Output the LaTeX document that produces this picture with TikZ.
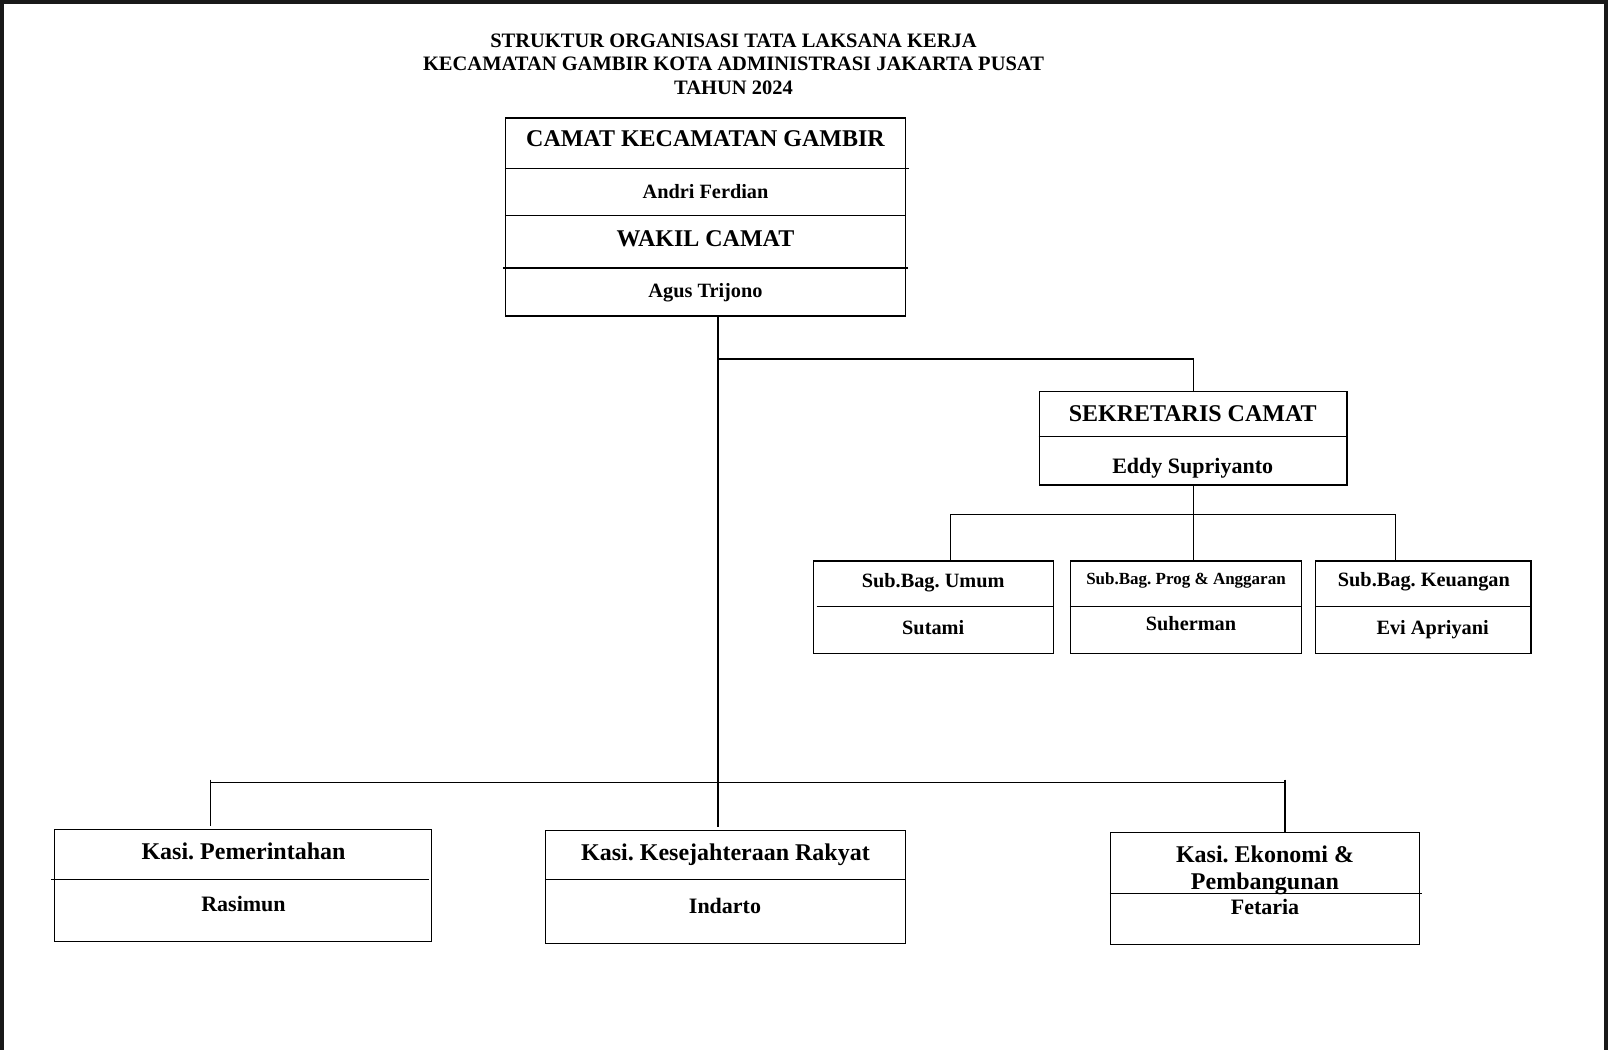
\documentclass[tikz,border=0pt]{standalone}
\usepackage{fontspec}
\setmainfont{Liberation Serif}
\frenchspacing
\begin{document}
\begin{tikzpicture}[x=1pt,y=-1pt,line width=1.2pt,
  box/.style={draw,rectangle,inner sep=0pt,line width=1.3pt},
  link/.style={line width=1.1pt},
  lbl/.style={inner sep=0pt,anchor=base,font=\bfseries},
  big/.style={lbl,font=\bfseries\fontsize{24}{28}\selectfont},
  mid/.style={lbl,font=\bfseries\fontsize{22}{26}\selectfont},
  sml/.style={lbl,font=\bfseries\fontsize{20.3}{24}\selectfont},
  tny/.style={lbl,font=\bfseries\fontsize{17}{20}\selectfont},
  ttl/.style={lbl,font=\bfseries\fontsize{20.5}{24}\selectfont},
  frame/.style={fill=black!90,draw=none}]
\useasboundingbox (0,0) rectangle (1608,1050);
\fill[white] (0,0) rectangle (1608,1050);
% dark frame
\fill[frame] (0,0) rectangle (3.5,1050);
\fill[frame] (0,0) rectangle (1608,4);
\fill[frame] (1604,0) rectangle (1608,1050);

% title
\node[ttl] (t1) at (733.5,47) {STRUKTUR ORGANISASI TATA LAKSANA KERJA};
\node[ttl] (t2) at (733.5,70) {KECAMATAN GAMBIR KOTA ADMINISTRASI JAKARTA PUSAT};
\node[ttl] (t3) at (733.5,94) {TAHUN 2024};

% top box
\node[box,minimum width=399.9pt,minimum height=198pt] (camat) at (705.55,217) {};
\draw ([yshift=-51pt]camat.north west) -- ([yshift=-51pt,xshift=3pt]camat.north east);
\draw ([yshift=-98.4pt]camat.north west) -- ([yshift=-98.4pt]camat.north east);
\draw ([yshift=-150.7pt,xshift=-2pt]camat.north west) -- ([yshift=-150.7pt,xshift=2pt]camat.north east);
\node[big] (camatT) at (705.5,146) {CAMAT KECAMATAN GAMBIR};
\node[sml] (camatN) at (705.5,198.5) {Andri Ferdian};
\node[big] (wakilT) at (705.5,246) {WAKIL CAMAT};
\node[sml] (wakilN) at (705.5,297) {Agus Trijono};

% sekretaris
\node[box,minimum width=307.7pt,minimum height=93.3pt] (sek) at (1193.2,438.35) {};
\draw ([yshift=-45.2pt]sek.north west) -- ([yshift=-45.2pt]sek.north east);
\node[big] (sekT) at (1192.7,421.5) {SEKRETARIS CAMAT};
\node[mid] (sekN) at (1192.7,473) {Eddy Supriyanto};

% sub bagian
\node[box,minimum width=240pt,minimum height=92.3pt] (umum) at (933.2,607.15) {};
\draw ([yshift=-46.1pt,xshift=4pt]umum.north west) -- ([yshift=-46.1pt]umum.north east);
\node[sml] (umumT) at (933.2,587) {Sub.Bag. Umum};
\node[sml] (umumN) at (933.2,634.5) {Sutami};

\node[box,minimum width=230.8pt,minimum height=92.3pt] (prog) at (1186,607.15) {};
\draw ([yshift=-46.1pt]prog.north west) -- ([yshift=-46.1pt]prog.north east);
\node[tny] (progT) at (1186,584) {Sub.Bag. Prog \& Anggaran};
\node[sml] (progN) at (1191,630.5) {Suherman};

\node[box,minimum width=215.4pt,minimum height=92.3pt] (keu) at (1423.4,607.15) {};
\draw ([yshift=-46.1pt]keu.north west) -- ([yshift=-46.1pt]keu.north east);
\node[sml] (keuT) at (1423.9,586.5) {Sub.Bag. Keuangan};
\node[sml] (keuN) at (1432.6,634) {Evi Apriyani};

% kasi boxes
\node[box,minimum width=377.3pt,minimum height=111.8pt] (pem) at (243.05,885.5) {};
\draw ([yshift=-50.3pt,xshift=-3pt]pem.north west) -- ([yshift=-50.3pt,xshift=-3pt]pem.north east);
\node[big] (pemT) at (243.5,859) {Kasi. Pemerintahan};
\node[mid] (pemN) at (243.5,911.5) {Rasimun};

\node[box,minimum width=359.9pt,minimum height=112.8pt] (kes) at (725.55,887.1) {};
\draw ([yshift=-49.2pt]kes.north west) -- ([yshift=-49.2pt]kes.north east);
\node[big] (kesT) at (725.5,860) {Kasi. Kesejahteraan Rakyat};
\node[mid] (kesN) at (725,913.5) {Indarto};

\node[box,minimum width=308.7pt,minimum height=111.8pt] (eko) at (1264.95,888.6) {};
\draw ([yshift=-61.5pt]eko.north west) -- ([yshift=-61.5pt,xshift=2pt]eko.north east);
\node[big] (ekoT1) at (1265,862) {Kasi. Ekonomi \&};
\node[big] (ekoT2) at (1265,889.5) {Pembangunan};
\node[mid] (ekoN) at (1265,914.5) {Fetaria};

% connector coordinates
\coordinate (j1) at (718,359);
\coordinate (bM) at (718,782.5);
\coordinate (bL) at (210.2,782.5);
\coordinate (bR) at (1285,782.5);
\coordinate (dU) at (950.6,514.8);
\coordinate (dK) at (1395.7,514.8);

% trunk and secretary link
\draw[link] (camat.south -| bM) -- (bM);
\draw[link] (j1) -| (sek.north);
% sub bagian links
\draw[link] (sek.south) -- (sek.south |- prog.north);
\draw[link] (dU |- umum.north) -- (dU) -- (dK) -- (dK |- keu.north);
% kasi links
\draw[link] (bL) -- (bR);
\draw[link] ([yshift=3pt]bL) -- ([yshift=-43pt]bL);
\draw[link] (bM) -- ([yshift=-44pt]bM);
\draw[link] ([yshift=3pt]bR) -- (bR |- eko.north);
\end{tikzpicture}
\end{document}
